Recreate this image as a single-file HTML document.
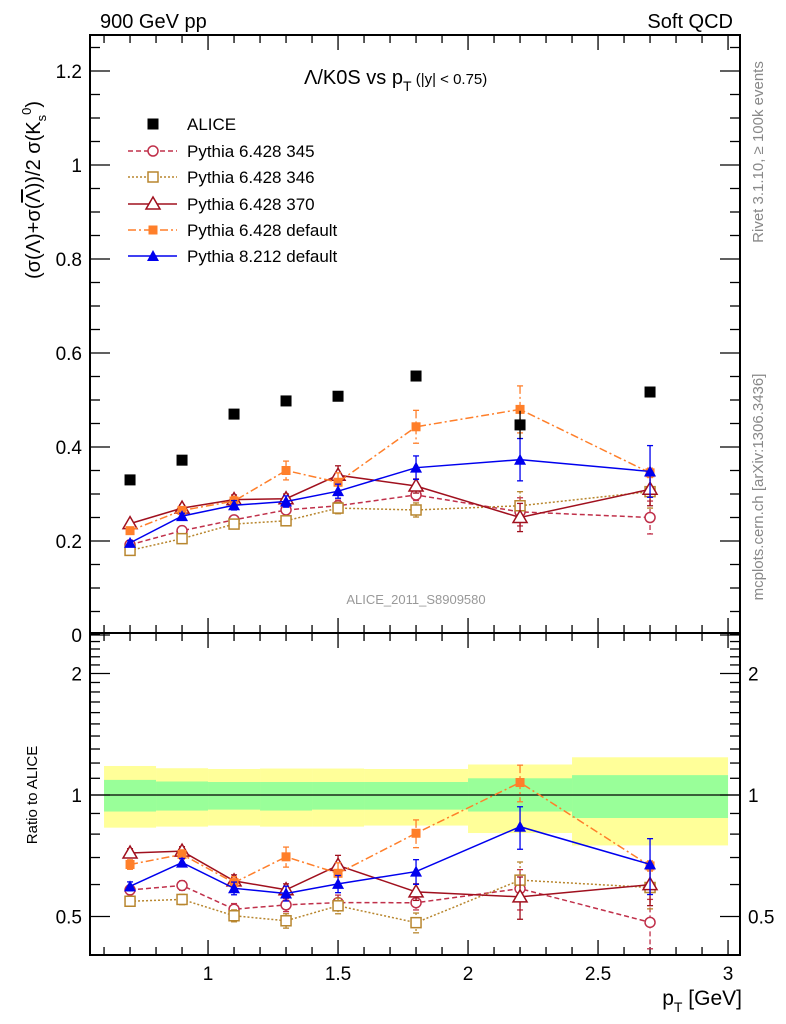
<!DOCTYPE html>
<html><head><meta charset="utf-8"><style>
body{margin:0;background:#fff}
svg{display:block;font-family:"Liberation Sans",sans-serif}
</style></head><body>
<svg id="c" width="786" height="1024" viewBox="0 0 786 1024" xmlns="http://www.w3.org/2000/svg">
<rect width="786" height="1024" fill="#fff"/>
<g id="bands"></g>
<g id="axes"></g>
<g id="series"></g>
<text x="100" y="28" font-size="20">900 GeV pp</text>
<text x="733" y="28" font-size="20" text-anchor="end">Soft QCD</text>
<text x="304" y="84" font-size="20">Λ/K0S vs p<tspan dy="7" font-size="14">T</tspan><tspan dy="-7" font-size="15"> (|y| &lt; 0.75)</tspan></text>
<text transform="translate(40,190) rotate(-90)" font-size="20" text-anchor="middle">(σ(Λ)+σ(<tspan text-decoration="overline">Λ</tspan>))/2 σ(K<tspan dy="6" font-size="13">s</tspan><tspan dy="-15" font-size="13">0</tspan><tspan dy="9">)</tspan></text>
<text transform="translate(37,795) rotate(-90)" font-size="15" text-anchor="middle">Ratio to ALICE</text>
<text x="742" y="1005" font-size="21" text-anchor="end">p<tspan dy="7" font-size="14">T</tspan><tspan dy="-7"> [GeV]</tspan></text>
<text x="416" y="604" font-size="13" fill="#999" text-anchor="middle">ALICE_2011_S8909580</text>
<text transform="translate(763,152) rotate(-90)" font-size="15" fill="#888" text-anchor="middle">Rivet 3.1.10, ≥ 100k events</text>
<text transform="translate(763,487) rotate(-90)" font-size="15" fill="#888" text-anchor="middle">mcplots.cern.ch [arXiv:1306.3436]</text>
<g id="legend"></g>
</svg>
<script>
const xVals=[0.7,0.9,1.1,1.3,1.5,1.8,2.2,2.7];
const alice=[0.330,0.372,0.470,0.498,0.508,0.551,0.447,0.517];
const aliceErr=[0.005,0.005,0.006,0.006,0.007,0.008,0.03,0.01];
const p345=[0.192,0.222,0.245,0.266,0.275,0.298,0.262,0.250];
const p345Err=[0.005,0.006,0.008,0.01,0.012,0.012,0.03,0.035];
const p346=[0.180,0.205,0.236,0.243,0.270,0.266,0.275,0.305];
const p346Err=[0.005,0.006,0.008,0.01,0.012,0.015,0.03,0.035];
const p370=[0.237,0.270,0.288,0.290,0.340,0.317,0.250,0.310];
const p370Err=[0.006,0.007,0.01,0.01,0.02,0.015,0.03,0.035];
const p6def=[0.222,0.265,0.285,0.350,0.325,0.443,0.480,0.345];
const p6defErr=[0.006,0.007,0.01,0.02,0.02,0.035,0.05,0.01];
const p8def=[0.196,0.253,0.276,0.284,0.306,0.356,0.373,0.348];
const p8defErr=[0.005,0.006,0.01,0.012,0.015,0.025,0.045,0.055];
const binEdges=[0.6,0.8,1.0,1.2,1.4,1.6,2.0,2.4,3.0];
const greenHi=[1.09,1.08,1.077,1.077,1.077,1.077,1.10,1.12];
const greenLo=[0.91,0.915,0.92,0.915,0.92,0.92,0.91,0.877];
const yellowHi=[1.18,1.165,1.16,1.163,1.163,1.16,1.19,1.24];
const yellowLo=[0.83,0.835,0.84,0.835,0.835,0.84,0.805,0.75];
const xTicks=[1,1.5,2,2.5,3];
const yTicks=[0,0.2,0.4,0.6,0.8,1,1.2];
const rTicks=[0.5,1,2];

const L=90,R=740,T=35,MB=633,RB=955;
const X0=0.546,X1=3.046;
const sx=v=>L+(v-X0)/(X1-X0)*(R-L);
const sy=v=>635-v*470;
const sr=v=>795-Math.log2(v)*121.5;
const NS="http://www.w3.org/2000/svg";
function mk(tag,attrs,parent){const e=document.createElementNS(NS,tag);for(const k in attrs)e.setAttribute(k,attrs[k]);parent.appendChild(e);return e;}
const bands=document.getElementById('bands'),axes=document.getElementById('axes'),ser=document.getElementById('series'),leg=document.getElementById('legend');

for(let i=0;i<greenHi.length;i++){
  const x1=sx(binEdges[i]),x2=sx(binEdges[i+1]);
  const y=mk('rect',{x:x1,y:sr(yellowHi[i]),width:x2-x1,height:sr(yellowLo[i])-sr(yellowHi[i]),fill:'#ffff99'},bands);
  
  
  const g=mk('rect',{x:x1,y:sr(greenHi[i]),width:x2-x1,height:sr(greenLo[i])-sr(greenHi[i]),fill:'#99ff99'},bands);
  
  
}
const one=mk('line',{x1:L,x2:R,y1:sr(1),y2:sr(1),stroke:'#000','stroke-width':1.3},axes);



const f1=mk('rect',{x:L,y:T,width:R-L,height:MB-T,fill:'none',stroke:'#000','stroke-width':2},axes);


const f2=mk('rect',{x:L,y:MB,width:R-L,height:RB-MB,fill:'none',stroke:'#000','stroke-width':2},axes);



for(let v=0.6;v<=3.001;v+=0.1){
  const major=Math.abs(v*2-Math.round(v*2))<1e-6;const x=sx(v);const len=major?15:8;
  [[T,T+len],[MB,MB-len],[MB,MB+len],[RB,RB-len]].forEach(p=>mk('line',{x1:x,x2:x,y1:p[0],y2:p[1],stroke:'#000','stroke-width':1.3},axes));
}
xTicks.forEach(v=>{const t=mk('text',{x:sx(v),y:980,'font-size':19,'text-anchor':'middle'},axes);t.textContent=String(v);

});
for(let v=0;v<=1.27;v+=0.05){
  const major=Math.abs(v*5-Math.round(v*5))<1e-6;const y=sy(v);const len=major?20:10;
  mk('line',{x1:L,x2:L+len,y1:y,y2:y,stroke:'#000','stroke-width':1.3},axes);
  mk('line',{x1:R,x2:R-len,y1:y,y2:y,stroke:'#000','stroke-width':1.3},axes);
}
yTicks.forEach(v=>{const t=mk('text',{x:82,y:sy(v)+7,'font-size':19,'text-anchor':'end'},axes);t.textContent=String(v);

});
const rMinor=[0.5,0.6,0.7,0.8,0.9,1,1.1,1.2,1.3,1.4,1.5,1.6,1.7,1.8,1.9,2,2.1,2.2,2.3,2.4,2.5];
rMinor.forEach(v=>{const y=sr(v);const len=rTicks.includes(v)?20:10;
  mk('line',{x1:L,x2:L+len,y1:y,y2:y,stroke:'#000','stroke-width':1.3},axes);
  mk('line',{x1:R,x2:R-len,y1:y,y2:y,stroke:'#000','stroke-width':1.3},axes);});
rTicks.forEach(v=>{
  const t=mk('text',{x:82,y:sr(v)+7,'font-size':19,'text-anchor':'end'},axes);t.textContent=String(v);
  
  
  const t2=mk('text',{x:748,y:sr(v)+7,'font-size':19},axes);t2.textContent=String(v);
  
  
});

function marker(g,kind,x,y,color){
  if(kind==='sqf')mk('rect',{x:x-5.5,y:y-5.5,width:11,height:11,fill:color},g);
  else if(kind==='sqs')mk('rect',{x:x-4.5,y:y-4.5,width:9,height:9,fill:color},g);
  else if(kind==='circ')mk('circle',{cx:x,cy:y,r:5,fill:'#fff',stroke:color,'stroke-width':1.5},g);
  else if(kind==='sqo')mk('rect',{x:x-5,y:y-5,width:10,height:10,fill:'#fff',stroke:color,'stroke-width':1.5},g);
  else if(kind==='trio')mk('polygon',{points:`${x},${y-7} ${x-7},${y+5} ${x+7},${y+5}`,fill:'#fff',stroke:color,'stroke-width':1.5},g);
  else if(kind==='trif')mk('polygon',{points:`${x},${y-6} ${x-6},${y+5} ${x+6},${y+5}`,fill:color},g);
}
const series=[
 {name:'pythia-6428-345',label:'Pythia 6.428 345',vals:p345,err:p345Err,color:'#c0304a',dash:'5,3',mk:'circ'},
 {name:'pythia-6428-346',label:'Pythia 6.428 346',vals:p346,err:p346Err,color:'#b8862e',dash:'2,2',mk:'sqo'},
 {name:'pythia-6428-370',label:'Pythia 6.428 370',vals:p370,err:p370Err,color:'#a0101e',dash:'',mk:'trio'},
 {name:'pythia-6428-default',label:'Pythia 6.428 default',vals:p6def,err:p6defErr,color:'#ff7f2a',dash:'8,3,2,3',mk:'sqs'},
 {name:'pythia-8212-default',label:'Pythia 8.212 default',vals:p8def,err:p8defErr,color:'#0000ee',dash:'',mk:'trif'}
];
function drawSeries(s,ys,ratio){
  const g=mk('g',{},ser);
  
  
  const pts=xVals.map((x,i)=>{const v=ratio?s.vals[i]/alice[i]:s.vals[i];return [sx(x),ys(v)];});
  const a={points:pts.map(p=>p.join(',')).join(' '),fill:'none',stroke:s.color,'stroke-width':1.5};
  if(s.dash)a['stroke-dasharray']=s.dash;
  mk('polyline',a,g);
  xVals.forEach((x,i)=>{
    const v=s.vals[i],e=s.err[i];const d=ratio?alice[i]:1;
    const y1=ys((v+e)/d),y2=ys(Math.max(v-e,0.001)/d);const px=sx(x);
    const ea={x1:px,x2:px,y1:y1,y2:y2,stroke:s.color,'stroke-width':1.3};if(s.dash)ea['stroke-dasharray']=s.dash;
    mk('line',ea,g);
    mk('line',{x1:px-3,x2:px+3,y1:y1,y2:y1,stroke:s.color,'stroke-width':1.3},g);
    mk('line',{x1:px-3,x2:px+3,y1:y2,y2:y2,stroke:s.color,'stroke-width':1.3},g);
    marker(g,s.mk,pts[i][0],pts[i][1],s.color);
  });
}
series.forEach(s=>drawSeries(s,sy,false));
series.forEach(s=>drawSeries(s,sr,true));
const ga=mk('g',{},ser);


xVals.forEach((x,i)=>{
  mk('line',{x1:sx(x),x2:sx(x),y1:sy(alice[i]+aliceErr[i]),y2:sy(alice[i]-aliceErr[i]),stroke:'#000','stroke-width':1.3},ga);
  marker(ga,'sqf',sx(x),sy(alice[i]),'#000');
});

const legY=[124,151,177,204,230,256];
const le0=mk('g',{},leg);


marker(le0,'sqf',153,legY[0],'#000');
const lt0=mk('text',{x:187,y:legY[0]+6,'font-size':17},le0);lt0.textContent='ALICE';
series.forEach((s,i)=>{
  const g=mk('g',{},leg);
  
  
  const y=legY[i+1];const a={x1:128,x2:177,y1:y,y2:y,stroke:s.color,'stroke-width':1.5};if(s.dash)a['stroke-dasharray']=s.dash;
  mk('line',a,g);marker(g,s.mk,153,y,s.color);
  const t=mk('text',{x:187,y:y+6,'font-size':17},g);t.textContent=s.label;
});
</script>
</body></html>
